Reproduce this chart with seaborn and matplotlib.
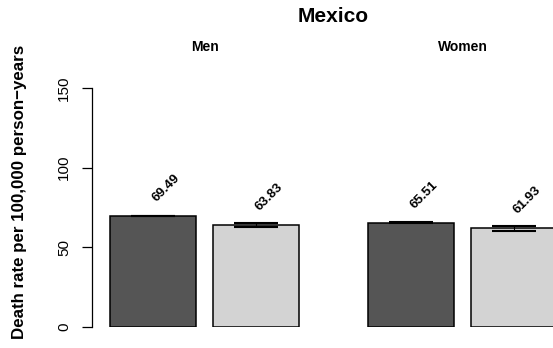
import matplotlib
matplotlib.use("Agg")
import matplotlib.pyplot as plt
import matplotlib.transforms as mtransforms
import numpy as np
import pandas as pd
import seaborn as sns

# Death rates by sex and series
sexes = ["Men", "Men", "Women", "Women"]
series = ["Series 1", "Series 2", "Series 1", "Series 2"]
rates = [69.49, 63.83, 65.51, 61.93]
ci_low = [69.49, 62.6, 65.25, 60.4]
ci_high = [69.49, 65.0, 65.75, 63.5]
y_ticks = [0, 50, 100, 150]

sns.set_theme(style="white")
plt.rcParams["font.family"] = ["Liberation Sans", "DejaVu Sans"]
plt.rcParams["text.color"] = "black"
plt.rcParams["axes.labelcolor"] = "black"
plt.rcParams["ytick.color"] = "black"

df = pd.DataFrame({"sex": sexes, "series": series, "rate": rates,
                   "lo": ci_low, "hi": ci_high})

W, H = 553, 348
fig = plt.figure(figsize=(W / 100, H / 100), dpi=100)
ax = fig.add_axes([92 / W, 21 / H, (W - 92) / W, (327 - 88) / H])

sns.barplot(data=df, x="sex", y="rate", hue="series",
            palette=["#555555", "#d3d3d3"], width=0.8, gap=1 / 6,
            edgecolor="black", linewidth=1.1, errorbar=None,
            legend=False, ax=ax)

# bar centres, left to right (same order as the rows of df)
patches = [p for p in ax.patches if p.get_height() > 0]
patches.sort(key=lambda p: p.get_x())
centers = np.array([p.get_x() + p.get_width() / 2 for p in patches])

# confidence intervals
for xc, lo, hi in zip(centers, df["lo"], df["hi"]):
    ax.plot([xc, xc], [lo, hi], color="black", lw=0.8, zorder=4)
    for yv in (lo, hi):
        ax.plot([xc - 0.085, xc + 0.085], [yv, yv], color="black",
                lw=1.5, solid_capstyle="butt", zorder=4)

# value labels
for xc, v in zip(centers, df["rate"]):
    ax.text(xc + 0.052, v + 17.5, f"{v:.2f}", rotation=45,
            rotation_mode="anchor", ha="center", va="center",
            fontsize=9.5, fontweight="bold", color="black", clip_on=False)

ax.set_xlim((92 - 204.5) / 258, (553 - 204.5) / 258)
ax.set_ylim(0, 150)
ax.set_yticks(y_ticks)
ax.set_yticklabels([str(t) for t in y_ticks], fontsize=11)
ax.tick_params(axis="y", left=True, length=7, width=0.9, pad=8,
               color="black", labelcolor="black", labelrotation=90)
for lab in ax.get_yticklabels():
    lab.set_verticalalignment("center")
ax.tick_params(axis="x", bottom=False, labelbottom=False)
ax.set_xlabel("")
ax.set_ylabel("")
for s in ("top", "right", "bottom"):
    ax.spines[s].set_visible(False)
ax.spines["left"].set_color("black")
ax.spines["left"].set_linewidth(0.9)
ax.spines["left"].set_bounds(0, 150)

# panel headings
trans = mtransforms.blended_transform_factory(ax.transData, fig.transFigure)
for xc, name in zip([0, 1], ["Men", "Women"]):
    ax.text(xc, 1 - 47 / H, name, transform=trans, ha="center",
            va="center", fontsize=10, fontweight="bold", color="black")

fig.text(333 / W, 1 - 17 / H, "Mexico", ha="center", va="center",
         fontsize=15, fontweight="bold", color="black")
fig.text(20 / W, 1 - 191.5 / H, "Death rate per 100,000 person\u2212years",
         rotation=90, ha="center", va="center", fontsize=12.2,
         fontweight="bold", color="black")

fig.savefig("out.png", dpi=100)
